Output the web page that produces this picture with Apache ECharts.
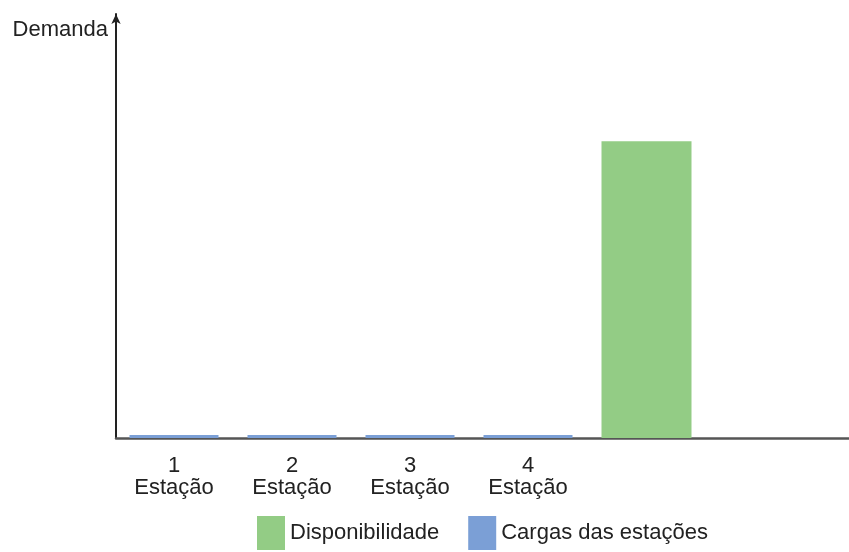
<!DOCTYPE html>
<html>
<head>
<meta charset="utf-8">
<script src="https://cdn.jsdelivr.net/npm/echarts@6/dist/echarts.min.js"></script>
<style>
  html, body { margin: 0; padding: 0; background: #fff; }
  #chart { width: 849px; height: 552px; }
</style>
</head>
<body>
<div id="chart"></div>
<script>
// Station numbers along the x axis (last two slots carry no station label)
const stationNumbers = ['1', '2', '3', '4', '', ''];
const stationWord = 'Estação';

// Series values per slot
const disponibilidade = [null, null, null, null, 70, null];
const cargasEstacoes = [0.7, 0.7, 0.7, 0.7, null, null];

const categories = stationNumbers.map(n => n ? n + '\n' + stationWord : '');

const FONT = "'Liberation Sans', Arial, sans-serif";
const TEXT = '#222';

const chart = echarts.init(document.getElementById('chart'), null, { renderer: 'canvas' });

chart.setOption({
  backgroundColor: '#fff',
  animation: false,
  textStyle: { fontFamily: FONT },
  legend: {
    data: ['Disponibilidade', 'Cargas das estações'],
    left: 257,
    top: 516,
    padding: 0,
    icon: 'rect',
    itemWidth: 28,
    itemHeight: 34,
    itemGap: 29,
    textStyle: { fontSize: 22, color: TEXT, fontFamily: FONT }
  },
  grid: [
    // bars
    { left: 115, width: 708, top: 14, bottom: 114 },
    // axis frame spanning the full width
    { left: 116, right: 0, top: 14, bottom: 114 }
  ],
  xAxis: [
    {
      type: 'category',
      gridIndex: 0,
      data: categories,
      boundaryGap: true,
      axisLine: { show: false },
      axisTick: { show: false },
      axisLabel: {
        interval: 0,
        margin: 17,
        fontSize: 22,
        lineHeight: 22,
        color: TEXT,
        fontFamily: FONT
      }
    },
    {
      type: 'value',
      gridIndex: 1,
      min: 0,
      max: 1,
      axisLine: { show: true, lineStyle: { color: '#555', width: 2.5 } },
      axisTick: { show: false },
      axisLabel: { show: false },
      splitLine: { show: false }
    }
  ],
  yAxis: [
    {
      type: 'value',
      gridIndex: 0,
      min: 0,
      max: 100,
      axisLine: { show: false },
      axisTick: { show: false },
      axisLabel: { show: false },
      splitLine: { show: false }
    },
    {
      type: 'value',
      gridIndex: 1,
      min: 0,
      max: 100,
      name: 'Demanda',
      nameLocation: 'end',
      nameGap: -16,
      nameTextStyle: {
        fontSize: 22,
        color: TEXT,
        fontFamily: FONT,
        align: 'right',
        verticalAlign: 'middle',
        padding: [0, 8, 0, 0]
      },
      axisLine: {
        show: true,
        symbol: ['none', 'arrow'],
        symbolSize: [7, 10],
        lineStyle: { color: '#222', width: 2 }
      },
      axisTick: { show: false },
      axisLabel: { show: false },
      splitLine: { show: false }
    }
  ],
  series: [
    {
      name: 'Disponibilidade',
      type: 'bar',
      xAxisIndex: 0,
      yAxisIndex: 0,
      data: disponibilidade,
      barWidth: 90,
      barGap: '-100%',
      itemStyle: { color: '#93cc85' }
    },
    {
      name: 'Cargas das estações',
      type: 'bar',
      xAxisIndex: 0,
      yAxisIndex: 0,
      data: cargasEstacoes,
      barWidth: 89,
      barGap: '-100%',
      itemStyle: { color: '#7b9fd6' }
    }
  ]
});
</script>
</body>
</html>
